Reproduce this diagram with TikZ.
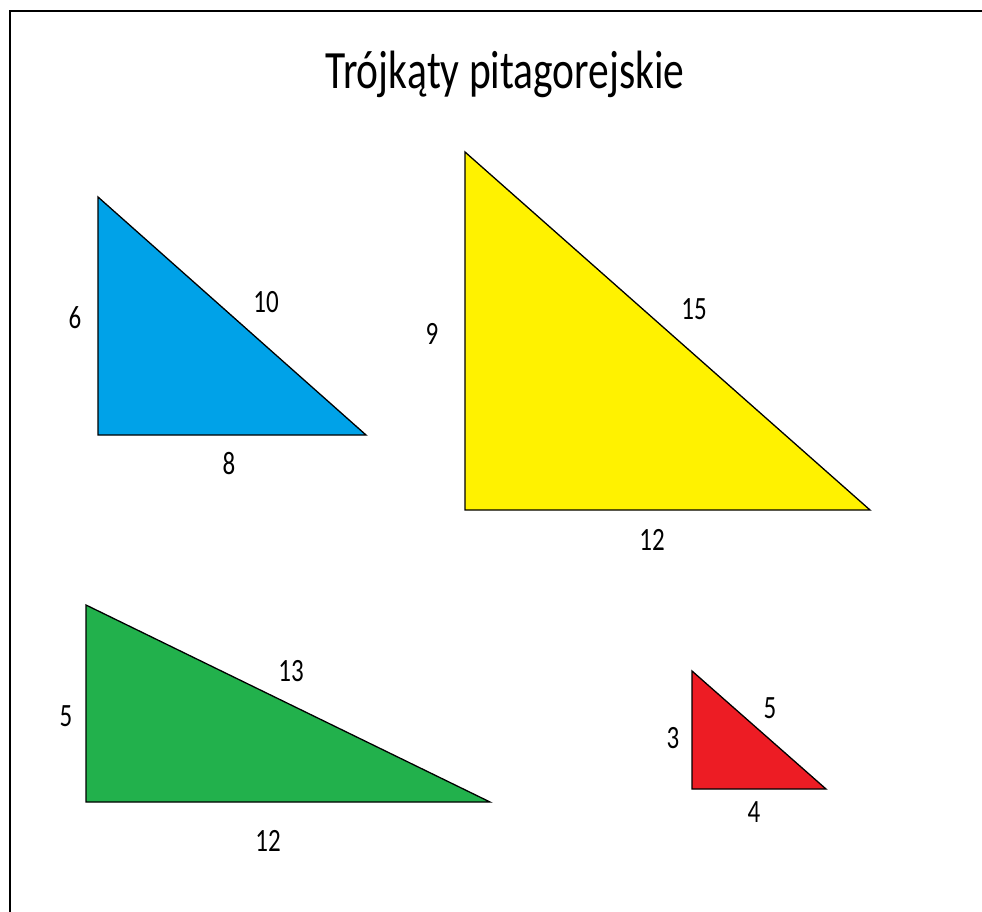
\documentclass[tikz,border=0pt]{standalone}
\usepackage{fontspec}
\setmainfont{Carlito}
\definecolor{tblue}{HTML}{00A2E8}
\definecolor{tyellow}{HTML}{FFF200}
\definecolor{tgreen}{HTML}{22B14C}
\definecolor{tred}{HTML}{ED1C24}
\newcommand{\stretchtxt}[1]{\scalebox{1}[1.3]{#1}}
\begin{document}
\begin{tikzpicture}[x=1pt,y=-1pt,
  tri/.style={draw=black,line width=1.3pt,line join=miter},
  lbl/.style={font=\fontsize{25}{30}\selectfont,inner sep=0pt},
  ttl/.style={font=\fontsize{41.5}{48}\selectfont,inner sep=0pt}]
\useasboundingbox (0,0) rectangle (982,912);
\fill[white] (0,0) rectangle (982,912);
\draw[line width=1.8pt] (10,912) -- (10,11) -- (982,11);
\node[ttl] (title) at (505,74) {\stretchtxt{Trójkąty pitagorejskie}};
% blue
\coordinate (b1) at (98,197); \coordinate (b2) at (98,435); \coordinate (b3) at (366,435);
\draw[tri,fill=tblue] (b1) -- (b2) -- (b3) -- cycle;
\node[lbl] (b6) at (75,318) {\stretchtxt{6}};
\node[lbl] (b10) at (266,302) {\stretchtxt{10}};
\node[lbl] (b8) at (229,464) {\stretchtxt{8}};
% yellow
\coordinate (y1) at (465,152); \coordinate (y2) at (465,510); \coordinate (y3) at (870,510);
\draw[tri,fill=tyellow] (y1) -- (y2) -- (y3) -- cycle;
\node[lbl] (y9) at (432,334) {\stretchtxt{9}};
\node[lbl] (y15) at (694,309) {\stretchtxt{15}};
\node[lbl] (y12) at (652,540) {\stretchtxt{12}};
% green
\coordinate (g1) at (86,605); \coordinate (g2) at (86,802); \coordinate (g3) at (490,802);
\draw[tri,fill=tgreen] (g1) -- (g2) -- (g3) -- cycle;
\node[lbl] (g5) at (66,716) {\stretchtxt{5}};
\node[lbl] (g13) at (291,671) {\stretchtxt{13}};
\node[lbl] (g12) at (268,841) {\stretchtxt{12}};
% red
\coordinate (r1) at (692,671); \coordinate (r2) at (692,789); \coordinate (r3) at (826,789);
\draw[tri,fill=tred] (r1) -- (r2) -- (r3) -- cycle;
\node[lbl] (r3l) at (673,738) {\stretchtxt{3}};
\node[lbl] (r5) at (770,708) {\stretchtxt{5}};
\node[lbl] (r4) at (754,812) {\stretchtxt{4}};
\end{tikzpicture}
\end{document}
